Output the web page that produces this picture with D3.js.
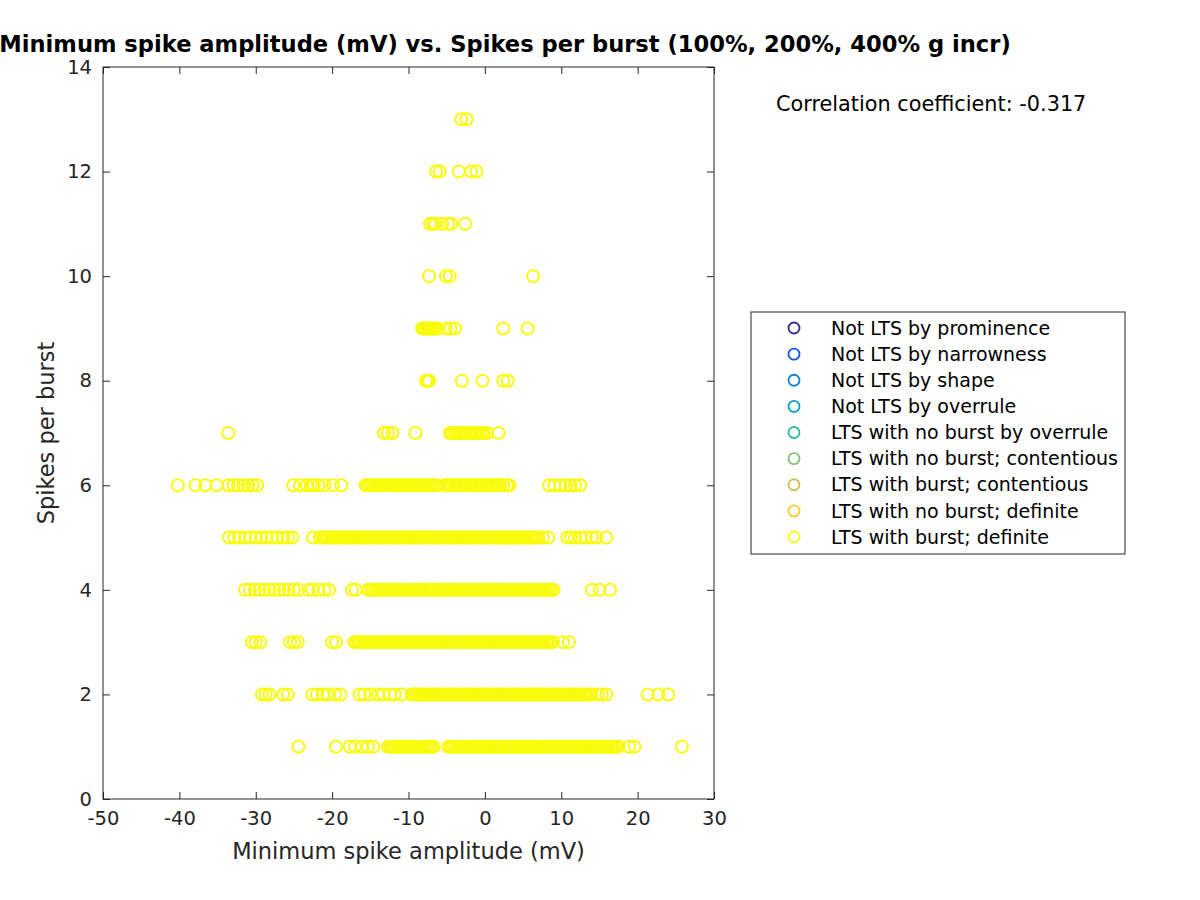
<!DOCTYPE html>
<html>
<head>
<meta charset="utf-8">
<script src="https://cdn.jsdelivr.net/npm/d3@7"></script>
<style>
  html, body { margin: 0; padding: 0; background: #fff; }
  svg { display: block; font-family: "DejaVu Sans", sans-serif; }
</style>
</head>
<body>
<svg id="chart" width="1200" height="900"></svg>
<script>
// ---------------- data ----------------
const titleText = "Minimum spike amplitude (mV) vs. Spikes per burst (100%, 200%, 400% g incr)";
const xLabel = "Minimum spike amplitude (mV)";
const yLabel = "Spikes per burst";
const corrText = "Correlation coefficient: -0.317";
const xTicks = [-50, -40, -30, -20, -10, 0, 10, 20, 30];
const yTicks = [0, 2, 4, 6, 8, 10, 12, 14];
const legendLabels = [
  "Not LTS by prominence",
  "Not LTS by narrowness",
  "Not LTS by shape",
  "Not LTS by overrule",
  "LTS with no burst by overrule",
  "LTS with no burst; contentious",
  "LTS with burst; contentious",
  "LTS with no burst; definite",
  "LTS with burst; definite"
];
const legendColors = ["#352a87", "#0f5cdd", "#1481d6", "#06a4ca", "#2eb7a4", "#87bf77", "#d1bb59", "#fec832", "#f9fb0e"];

// minimum spike amplitude (mV) for each spikes-per-burst value
const amp1 = [-24.4, -19.5, -17.7, -17.0, -16.1, -15.3, -14.6,
  -12.7,-12.4,-12.1,-11.9,-11.6,-11.3,-11.0,-10.7,-10.5,-10.2,-9.9,-9.6,-9.3,-9.1,-8.8,-8.5,-8.2,-7.9,-7.6,-7.3,-7.0,-6.7,
  -4.8,-4.5,-4.2,-3.9,-3.6,-3.4,-3.1,-2.8,-2.5,-2.2,-1.9,-1.6,-1.4,-1.1,-0.8,-0.5,-0.2,0.1,0.4,0.6,0.9,1.2,1.5,1.8,2.1,2.4,
  2.6,2.9,3.2,3.5,3.8,4.1,4.4,4.6,4.9,5.2,5.5,5.8,6.1,6.4,6.6,6.9,7.2,7.5,7.8,8.1,8.4,8.6,8.9,9.2,9.5,9.8,10.1,10.4,10.6,
  10.9,11.2,11.5,11.8,12.1,12.4,12.6,12.9,13.2,13.5,13.8,14.1,14.4,14.6,14.9,15.2,15.5,15.8,16.1,16.4,16.6,16.9,17.2,17.5,
  18.9, 19.6, 25.8];
const amp2 = [-29.2, -28.7, -28.2, -26.4, -25.8, -22.6, -22.0, -21.2, -20.6, -19.6, -18.9,
  -16.4, -15.8, -15.0, -14.0, -13.3, -12.4, -11.8, -10.9,
  -9.6,-9.3,-9.0,-8.7,-8.4,-8.2,-7.9,-7.6,-7.3,-7.0,-6.7,-6.4,-6.2,-5.9,-5.6,-5.3,-5.0,-4.7,-4.4,-4.2,-3.9,-3.6,-3.3,-3.0,
  -2.7,-2.4,-2.2,-1.9,-1.6,-1.3,-1.0,-0.7,-0.4,-0.2,0.1,0.4,0.7,1.0,1.3,1.6,1.8,2.1,2.4,2.7,3.0,3.3,3.6,3.8,4.1,4.4,4.7,5.0,
  5.3,5.6,5.8,6.1,6.4,6.7,7.0,7.3,7.6,7.8,8.1,8.4,8.7,9.0,9.3,9.6,9.8,10.1,10.4,10.7,11.0,11.3,11.6,11.8,12.1,12.4,12.7,13.0,
  13.3,13.6,13.9, 14.8, 15.3, 15.9, 21.3, 22.7, 24.0];
const amp3 = [-30.5, -30.0, -29.4, -25.5, -25.0, -24.5, -20.0, -19.5,
  -17.1,-16.8,-16.5,-16.2,-15.9,-15.7,-15.4,-15.1,-14.8,-14.5,-14.2,-13.9,-13.7,-13.4,-13.1,-12.8,-12.5,-12.2,-11.9,-11.7,
  -11.4,-11.1,-10.8,-10.5,-10.2,-9.9,-9.7,-9.4,-9.1,-8.8,-8.5,-8.2,-7.9,-7.7,-7.4,-7.1,-6.8,-6.5,-6.2,-5.9,-5.7,-5.4,-5.1,
  -4.8,-4.5,-4.2,-3.9,-3.7,-3.4,-3.1,-2.8,-2.5,-2.2,-1.9,-1.7,-1.4,-1.1,-0.8,-0.5,-0.2,0.1,0.3,0.6,0.9,1.2,1.5,1.8,2.1,2.3,
  2.6,2.9,3.2,3.5,3.8,4.1,4.3,4.6,4.9,5.2,5.5,5.8,6.1,6.3,6.6,6.9,7.2,7.5,7.8,8.1,8.3,8.6,8.9, 10.2, 11.0];
const amp4 = [-31.4, -30.8, -30.1, -29.5, -28.9, -28.2, -27.6, -26.9, -26.3, -25.7, -25.0, -24.4, -23.1, -22.6, -21.8,
  -21.0, -20.4, -17.4, -16.9,
  -15.3,-15.0,-14.7,-14.4,-14.1,-13.9,-13.6,-13.3,-13.0,-12.7,-12.4,-12.1,-11.9,-11.6,-11.3,-11.0,-10.7,-10.4,-10.1,-9.9,
  -9.6,-9.3,-9.0,-8.7,-8.4,-8.1,-7.9,-7.6,-7.3,-7.0,-6.7,-6.4,-6.1,-5.9,-5.6,-5.3,-5.0,-4.7,-4.4,-4.1,-3.9,-3.6,-3.3,-3.0,
  -2.7,-2.4,-2.1,-1.9,-1.6,-1.3,-1.0,-0.7,-0.4,-0.1,0.1,0.4,0.7,1.0,1.3,1.6,1.9,2.1,2.4,2.7,3.0,3.3,3.6,3.9,4.1,4.4,4.7,5.0,
  5.3,5.6,5.9,6.1,6.4,6.7,7.0,7.3,7.6,7.9,8.1,8.4,8.7,9.0, 14.0, 15.0, 16.4];
const amp5 = [-33.5, -32.8, -32.2, -31.4, -30.7, -30.0, -29.3, -28.6, -27.9, -27.2, -26.4, -25.8, -25.2,
  -22.5,
  -21.6,-21.3,-21.0,-20.7,-20.4,-20.1,-19.9,-19.6,-19.3,-19.0,-18.7,-18.4,-18.1,-17.9,-17.6,-17.3,-17.0,-16.7,-16.4,-16.1,
  -15.9,-15.6,-15.3,-15.0,-14.7,-14.4,-14.1,-13.9,-13.6,-13.3,-13.0,-12.7,-12.4,-12.1,-11.9,-11.6,-11.3,-11.0,-10.7,-10.4,
  -10.1,-9.9,-9.6,-9.3,-9.0,-8.7,-8.4,-8.1,-7.9,-7.6,-7.3,-7.0,-6.7,-6.4,-6.1,-5.9,-5.6,-5.3,-5.0,-4.7,-4.4,-4.1,-3.9,-3.6,
  -3.3,-3.0,-2.7,-2.4,-2.1,-1.9,-1.6,-1.3,-1.0,-0.7,-0.4,-0.1,0.1,0.4,0.7,1.0,1.3,1.6,1.9,2.1,2.4,2.7,3.0,3.3,3.6,3.9,4.1,
  4.4,4.7,5.0,5.3,5.6,5.9,6.1,6.4,6.7,7.0,7.6,8.3,
  10.8, 11.3, 11.8, 12.5, 13.2, 14.0, 14.6, 15.9];
const amp6 = [-40.2, -37.9, -36.6, -35.1, -33.6, -32.9, -32.3, -31.6, -31.0, -30.4, -29.8,
  -25.1, -24.2, -23.3, -22.8, -22.4, -21.8, -21.0, -19.9, -18.8,
  -15.6,-15.3,-15.0,-14.7,-14.4,-14.1,-13.9,-13.6,-13.3,-13.0,-12.7,-12.4,-12.1,-11.9,-11.6,-11.3,-11.0,-10.7,-10.4,-10.1,
  -9.9,-9.6,-9.3,-9.0,-8.7,-8.4,-8.1,-7.9,-7.6,-7.3,-7.0,-6.7,-6.3,-5.2,-4.9,-4.6,-4.3,-4.0,-3.7,-3.4,-3.1,-2.8,-2.5,-2.2,
  -1.9,-1.6,-1.3,-1.0,-0.7,-0.4,-0.1,0.2,0.5,0.8,1.1,1.4,1.7,2.0,2.4,2.9,3.2,
  8.4, 9.1, 9.9, 10.6, 11.2, 11.8, 12.5];
const amp7 = [-33.6, -13.2, -12.7, -12.1, -9.1,
  -4.6,-4.3,-4.0,-3.7,-3.4,-3.1,-2.8,-2.5,-2.2,-1.9,-1.6,-1.3,-1.0,-0.7,-0.4,-0.1,0.3, 1.8];
const amp8 = [-7.7, -7.5, -7.3, -3.0, -0.3, 2.4, 3.0];
const amp9 = [-8.2, -8.0, -7.8, -7.6, -7.4, -7.2, -7.0, -6.8, -6.5, -6.2, -5.1, -4.5, -3.9, 2.4, 5.6];
const amp10 = [-7.3, -5.1, -4.6, 6.3];
const amp11 = [-7.2, -6.8, -6.5, -5.6, -4.8, -4.4, -2.6];
const amp12 = [-6.4, -5.9, -3.4, -1.8, -1.1];
const amp13 = [-3.1, -2.4];
const spikeRows = [
  [1, amp1], [2, amp2], [3, amp3], [4, amp4], [5, amp5], [6, amp6], [7, amp7],
  [8, amp8], [9, amp9], [10, amp10], [11, amp11], [12, amp12], [13, amp13]
];

// ---------------- chart ----------------
const svg = d3.select("#chart");
const axisColor = "#262626";
const plot = { left: 103, right: 714, top: 67, bottom: 799 };

const x = d3.scaleLinear().domain([-50, 30]).range([plot.left, plot.right]);
const y = d3.scaleLinear().domain([0, 14]).range([plot.bottom, plot.top]);

svg.append("rect").attr("width", 1200).attr("height", 900).attr("fill", "#fff");

// points
const points = [];
spikeRows.forEach(([n, arr]) => arr.forEach(v => points.push({ x: v, y: n })));
svg.append("g").selectAll("circle").data(points).join("circle")
  .attr("cx", d => x(d.x)).attr("cy", d => y(d.y)).attr("r", 6)
  .attr("fill", "none").attr("stroke", legendColors[8]).attr("stroke-width", 2);

// axes
const fmt = d => String(d);
function styleAxis(g) {
  g.select(".domain").remove();
  g.selectAll(".tick line").attr("stroke", axisColor);
  g.selectAll(".tick text").attr("fill", axisColor).attr("font-size", 19.5).attr("font-family", "DejaVu Sans");
}
svg.append("g").attr("transform", `translate(0,${plot.bottom})`)
  .call(d3.axisBottom(x).tickValues(xTicks).tickSize(-7).tickPadding(12).tickFormat(fmt))
  .call(styleAxis);
svg.append("g").attr("transform", `translate(0,${plot.top})`)
  .call(d3.axisTop(x).tickValues(xTicks).tickSize(-7).tickFormat(""))
  .call(styleAxis);
svg.append("g").attr("transform", `translate(${plot.left},0)`)
  .call(d3.axisLeft(y).tickValues(yTicks).tickSize(-7).tickPadding(11).tickFormat(fmt))
  .call(styleAxis);
svg.append("g").attr("transform", `translate(${plot.right},0)`)
  .call(d3.axisRight(y).tickValues(yTicks).tickSize(-7).tickFormat(""))
  .call(styleAxis);

svg.append("rect").attr("x", plot.left).attr("y", plot.top)
  .attr("width", plot.right - plot.left).attr("height", plot.bottom - plot.top)
  .attr("fill", "none").attr("stroke", axisColor).attr("stroke-width", 1);

// labels
svg.append("text").attr("x", (plot.left + plot.right) / 2).attr("y", 859)
  .attr("text-anchor", "middle").attr("font-size", 22.5).attr("fill", axisColor).text(xLabel);
svg.append("text").attr("transform", `translate(54,${(plot.top + plot.bottom) / 2}) rotate(-90)`)
  .attr("text-anchor", "middle").attr("font-size", 22.5).attr("fill", axisColor).text(yLabel);
svg.append("text").attr("x", 505).attr("y", 52)
  .attr("text-anchor", "middle").attr("font-size", 22.6).attr("font-weight", "bold").attr("fill", "#000").text(titleText);
svg.append("text").attr("x", 776).attr("y", 111)
  .attr("font-size", 20.8).attr("fill", "#000").text(corrText);

// legend
const lg = svg.append("g");
lg.append("rect").attr("x", 751).attr("y", 312).attr("width", 374).attr("height", 242)
  .attr("fill", "#fff").attr("stroke", axisColor).attr("stroke-width", 1);
const ly = d3.scalePoint().domain(legendLabels).range([328, 537]);
legendLabels.forEach((lab, i) => {
  lg.append("circle").attr("cx", 794).attr("cy", ly(lab)).attr("r", 5.5)
    .attr("fill", "none").attr("stroke", legendColors[i]).attr("stroke-width", 1.8);
  lg.append("text").attr("x", 831).attr("y", ly(lab)).attr("dy", "0.35em")
    .attr("font-size", 19).attr("fill", "#000").text(lab);
});
</script>
</body>
</html>
